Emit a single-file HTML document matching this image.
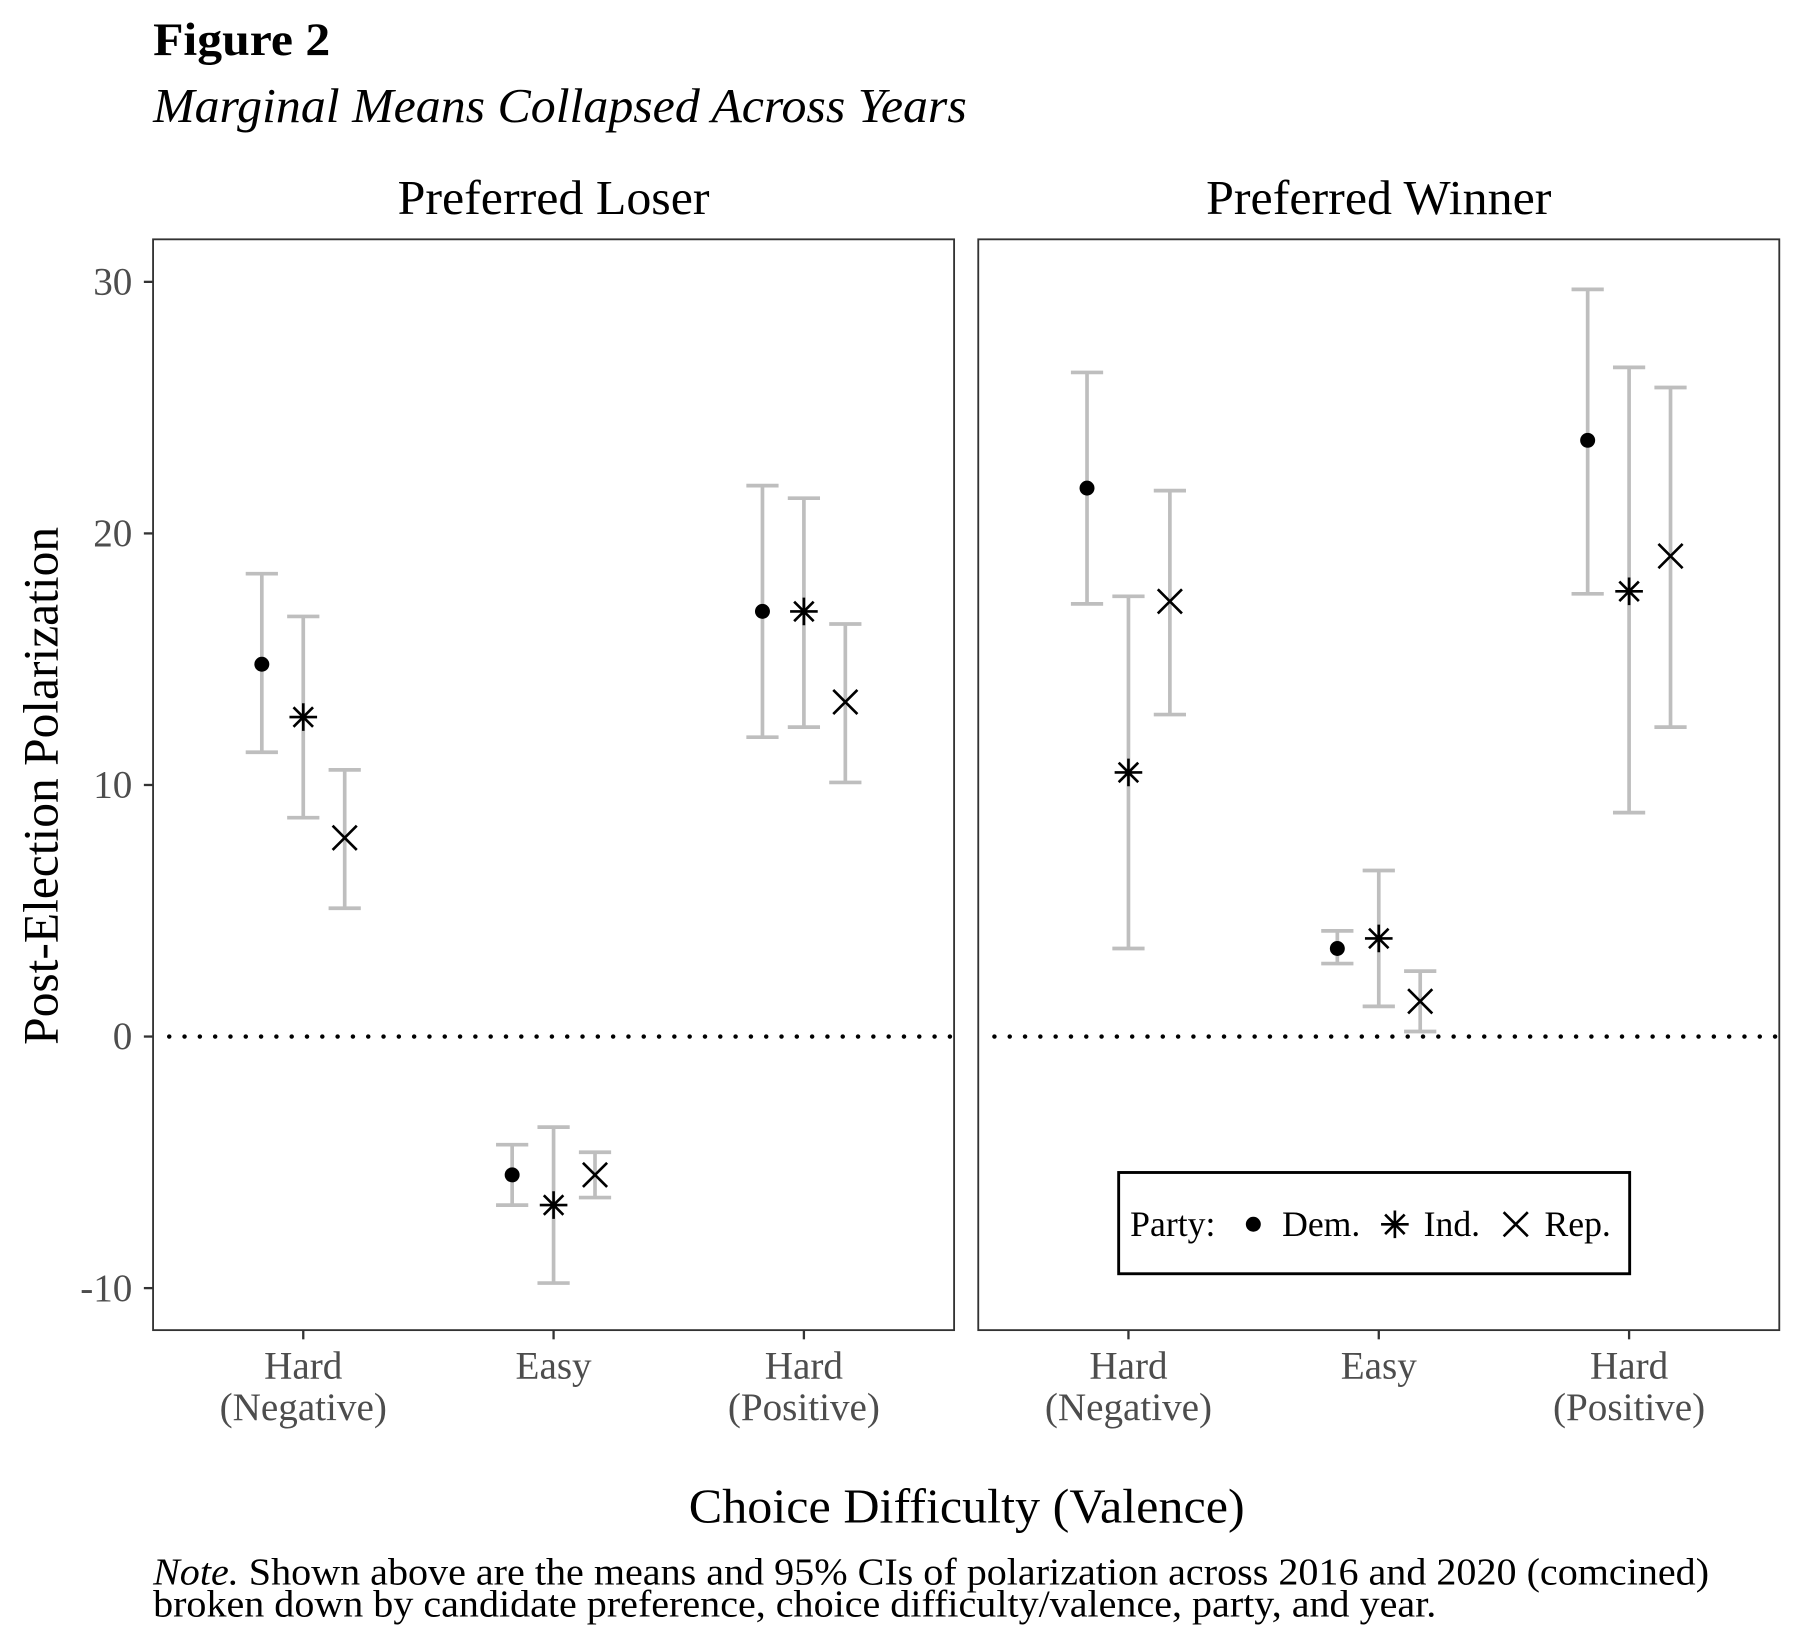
<!DOCTYPE html>
<html><head><meta charset="utf-8"><style>
html,body{margin:0;padding:0;background:#fff;}
svg{display:block;font-family:"Liberation Serif",serif;}
</style></head><body>
<svg id="chart" width="1800" height="1650" viewBox="0 0 1564 1434" preserveAspectRatio="none" xmlns="http://www.w3.org/2000/svg">
<text x="133" y="48" font-size="40" font-weight="bold" textLength="154" lengthAdjust="spacingAndGlyphs">Figure 2</text>
<text x="133" y="106" font-size="42" font-style="italic" textLength="707" lengthAdjust="spacingAndGlyphs">Marginal Means Collapsed Across Years</text>
<text x="481" y="186" font-size="42" text-anchor="middle" textLength="271" lengthAdjust="spacingAndGlyphs">Preferred Loser</text>
<text x="1198" y="186" font-size="42" text-anchor="middle" textLength="300" lengthAdjust="spacingAndGlyphs">Preferred Winner</text>
<text transform="translate(50,683) rotate(-90)" font-size="43" text-anchor="middle">Post-Election Polarization</text>
<text x="840" y="1323" font-size="42" text-anchor="middle" textLength="483" lengthAdjust="spacingAndGlyphs">Choice Difficulty (Valence)</text>
<text x="133" y="1377" font-size="33" textLength="1352" lengthAdjust="spacingAndGlyphs"><tspan font-style="italic">Note.</tspan> Shown above are the means and 95% CIs of polarization across 2016 and 2020 (comcined)</text>
<text x="133" y="1405" font-size="33" textLength="1115" lengthAdjust="spacingAndGlyphs">broken down by candidate preference, choice difficulty/valence, party, and year.</text>
<g id="plot"></g>
</svg>
<script>
const panels = ["Preferred Loser", "Preferred Winner"];
const categories = ["Hard\n(Negative)", "Easy", "Hard\n(Positive)"];
const parties = ["Dem.", "Ind.", "Rep."];
const yTicks = [-10, 0, 10, 20, 30];
const demMean = [[14.8, -5.5, 16.9], [21.8, 3.5, 23.7]];
const demLow  = [[11.3, -6.7, 11.9], [17.2, 2.9, 17.6]];
const demHigh = [[18.4, -4.3, 21.9], [26.4, 4.2, 29.7]];
const indMean = [[12.7, -6.7, 16.9], [10.5, 3.9, 17.7]];
const indLow  = [[8.7, -9.8, 12.3], [3.5, 1.2, 8.9]];
const indHigh = [[16.7, -3.6, 21.4], [17.5, 6.6, 26.6]];
const repMean = [[7.9, -5.5, 13.3], [17.3, 1.4, 19.1]];
const repLow  = [[5.1, -6.4, 10.1], [12.8, 0.2, 12.3]];
const repHigh = [[10.6, -4.6, 16.4], [21.7, 2.6, 25.8]];

const NS = "http://www.w3.org/2000/svg";
const plotG = document.getElementById("plot");
const panelX = [133, 850], panelW = 696, pTop = 208, pBottom = 1156;
const yMin = -11.67, yMax = 31.69;
function yS(v){ return pBottom - (v - yMin) / (yMax - yMin) * (pBottom - pTop); }
function xS(p, c, k){ return panelX[p] + panelW * (0.1875 + c * 0.3125) + (k - 1) * 36; }
function el(tag, attrs){ const e = document.createElementNS(NS, tag); for (const a in attrs) e.setAttribute(a, attrs[a]); plotG.appendChild(e); return e; }

function marker(type, cx, cy, name){
  const grp = document.createElementNS(NS, "g");
  
  
  plotG.appendChild(grp);
  const add = (tag, a) => { const e = document.createElementNS(NS, tag); for (const k in a) e.setAttribute(k, a[k]); grp.appendChild(e); };
  if (type === 0) add("circle", {cx, cy, r: 6.5, fill: "#000"});
  else if (type === 1) {
    const r = 12;
    add("path", {d: `M${cx-r},${cy}H${cx+r}M${cx},${cy-r}V${cy+r}M${cx-r*0.707},${cy-r*0.707}L${cx+r*0.707},${cy+r*0.707}M${cx-r*0.707},${cy+r*0.707}L${cx+r*0.707},${cy-r*0.707}`, stroke: "#000", "stroke-width": 2.3, fill: "none"});
  } else {
    const r = 10.5;
    add("path", {d: `M${cx-r},${cy-r}L${cx+r},${cy+r}M${cx-r},${cy+r}L${cx+r},${cy-r}`, stroke: "#000", "stroke-width": 2.3, fill: "none"});
  }
}

const means = [demMean, indMean, repMean], lows = [demLow, indLow, repLow], highs = [demHigh, indHigh, repHigh];
for (let p = 0; p < 2; p++) {
  const px = panelX[p];
  const zl = el("line", {x1: px + 14, x2: px + panelW, y1: yS(0), y2: yS(0), stroke: "#000", "stroke-width": 3.8, "stroke-dasharray": "0.1 13.2", "stroke-linecap": "round"});
  
  
  for (let c = 0; c < 3; c++) {
    for (let k = 0; k < 3; k++) {
      const cx = xS(p, c, k), lo = yS(lows[k][p][c]), hi = yS(highs[k][p][c]);
      const eb = el("path", {d: `M${cx-14},${hi}H${cx+14}M${cx},${hi}V${lo}M${cx-14},${lo}H${cx+14}`, stroke: "#bebebe", "stroke-width": 3.2, fill: "none"});
      
      
      marker(k, cx, yS(means[k][p][c]), 'point-' + parties[k].toLowerCase().replace('.', ''));
    }
    const cx = xS(p, c, 1);
    const tk = el("line", {x1: cx, x2: cx, y1: pBottom, y2: pBottom + 8, stroke: "#333", "stroke-width": 2});
    
    
    const lines = categories[c].split("\n");
    lines.forEach((ln, i) => {
      const t = el("text", {x: cx, y: 1198 + i * 36, "font-size": 34, fill: "#4d4d4d", "text-anchor": "middle"});
      t.textContent = ln;
      
      
    });
  }
  const fr = el("rect", {x: px, y: pTop, width: panelW, height: pBottom - pTop, fill: "none", stroke: "#333", "stroke-width": 1.6});
  
  
}
yTicks.forEach(v => {
  const tk = el("line", {x1: 125, x2: 133, y1: yS(v), y2: yS(v), stroke: "#333", "stroke-width": 2});
  
  
  const t = el("text", {x: 115, y: yS(v) + 11, "font-size": 34, fill: "#4d4d4d", "text-anchor": "end"});
  t.textContent = v;
  
  
});
const lb = el("rect", {x: 972, y: 1019, width: 444, height: 88, fill: "#fff", stroke: "#000", "stroke-width": 2.5});


const lt = el("text", {x: 982, y: 1074, "font-size": 31});
lt.textContent = "Party:";


const lx = [1089, 1212, 1317];
parties.forEach((pname, k) => {
  marker(k, lx[k], 1064, 'legend-key-' + pname.toLowerCase().replace('.', ''));
  const t = el("text", {x: lx[k] + 25, y: 1074, "font-size": 31});
  t.textContent = pname;
  
  
});
</script>
</body></html>
